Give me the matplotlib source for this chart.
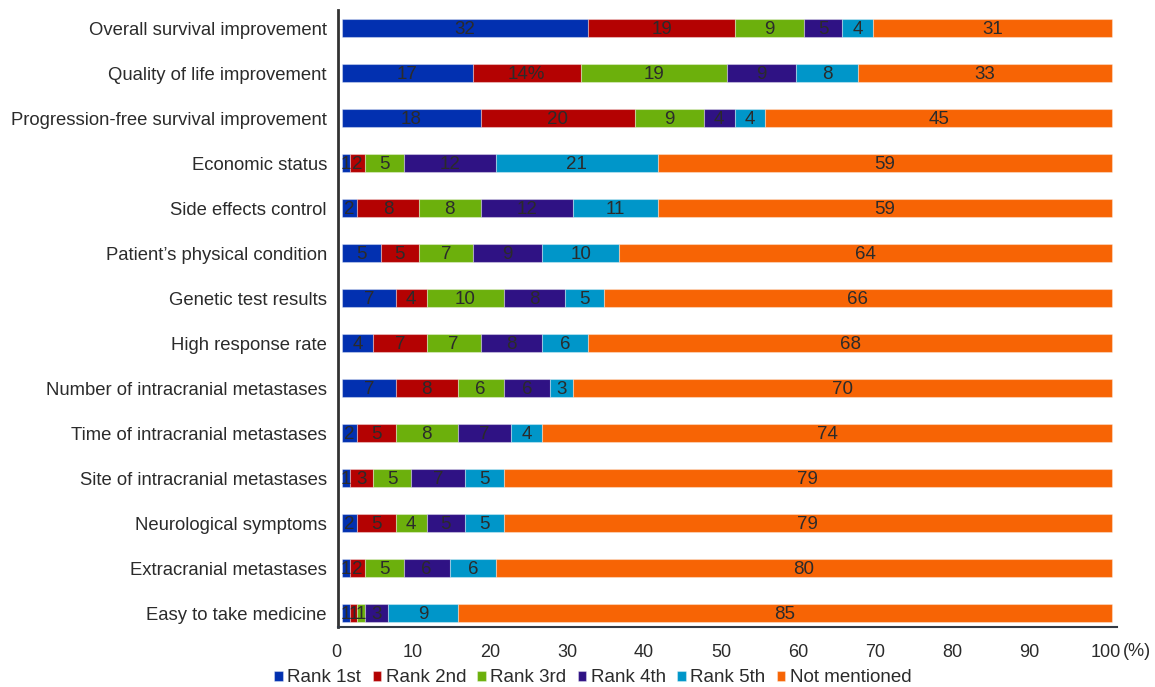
import numpy as np
import matplotlib.pyplot as plt
from matplotlib.transforms import ScaledTranslation

plt.rcParams['font.family'] = ['Liberation Sans', 'DejaVu Sans']

factors = ["Overall survival improvement", "Quality of life improvement",
           "Progression-free survival improvement", "Economic status",
           "Side effects control", "Patient\u2019s physical condition",
           "Genetic test results", "High response rate",
           "Number of intracranial metastases", "Time of intracranial metastases",
           "Site of intracranial metastases", "Neurological symptoms",
           "Extracranial metastases", "Easy to take medicine"]

rank1 = [32, 17, 18, 1, 2, 5, 7, 4, 7, 2, 1, 2, 1, 1]
rank2 = [19, 14, 20, 2, 8, 5, 4, 7, 8, 5, 3, 5, 2, 1]
rank3 = [9, 19, 9, 5, 8, 7, 10, 7, 6, 8, 5, 4, 5, 1]
rank4 = [5, 9, 4, 12, 12, 9, 8, 8, 6, 7, 7, 5, 6, 3]
rank5 = [4, 8, 4, 21, 11, 10, 5, 6, 3, 4, 5, 5, 6, 9]
not_mentioned = [31, 33, 45, 59, 59, 64, 66, 68, 70, 74, 79, 79, 80, 85]

series = ["Rank 1st", "Rank 2nd", "Rank 3rd", "Rank 4th", "Rank 5th", "Not mentioned"]
colors = ["#0230b0", "#b40202", "#6cb00c", "#2f1284", "#0096c9", "#f76405"]

data = np.array([rank1, rank2, rank3, rank4, rank5, not_mentioned])
y = np.arange(len(factors))

fig = plt.figure(figsize=(11.55, 6.87), dpi=100)
ax = fig.add_axes([338 / 1155, 1 - 627 / 687, (1117 - 338) / 1155, (627 - 10) / 687])

left = np.zeros(len(factors))
for i, name in enumerate(series):
    ax.barh(y, data[i], left=left, height=0.4, color=colors[i],
            edgecolor=(1, 1, 1, 0.35), linewidth=0.8, label=name)
    for j, v in enumerate(data[i]):
        # the second row's rank-2 value is printed with a percent sign
        txt = "14%" if (i == 1 and j == 1) else str(v)
        ax.text(left[j] + v / 2, y[j] + 0.03, txt, ha='center', va='center',
                fontsize=13.5, color='#2b2b2b')
    left += data[i]

ax.set_xlim(-0.52, 100.65)
ax.set_ylim(len(factors) - 1 + 0.3, -0.4)
ax.set_yticks(y)
ax.set_yticklabels(factors, fontsize=13.3, color='#2b2b2b')
ax.set_xticks(np.arange(0, 101, 10))
ax.set_xticklabels([str(t) for t in range(0, 101, 10)], fontsize=13, color='#2b2b2b')
ax.tick_params(axis='both', length=0)
ax.tick_params(axis='x', pad=12)
ax.tick_params(axis='y', pad=8)
# tick labels sit a few pixels left of their gridline positions
shift = ScaledTranslation(-6 / 100, 0, fig.dpi_scale_trans)
for lbl in ax.get_xticklabels():
    lbl.set_transform(lbl.get_transform() + shift)
fig.text(1123 / 1155, 1 - 652 / 687, "(%)", ha='left', va='center',
         fontsize=13, color='#2b2b2b')

for s in ['top', 'right']:
    ax.spines[s].set_visible(False)
ax.spines['left'].set_linewidth(2)
ax.spines['left'].set_color('#333333')
ax.spines['bottom'].set_linewidth(1.5)
ax.spines['bottom'].set_color('#333a44')

fig.legend(*ax.get_legend_handles_labels(), loc='center',
           bbox_to_anchor=(593 / 1155, 1 - 678 / 687), ncol=6,
           frameon=False, fontsize=13.5, handlelength=0.45, handleheight=0.45,
           handletextpad=0.25, columnspacing=0.6, labelcolor='#2b2b2b',
           borderpad=0, borderaxespad=0)

fig.savefig("out.png", dpi=100)
